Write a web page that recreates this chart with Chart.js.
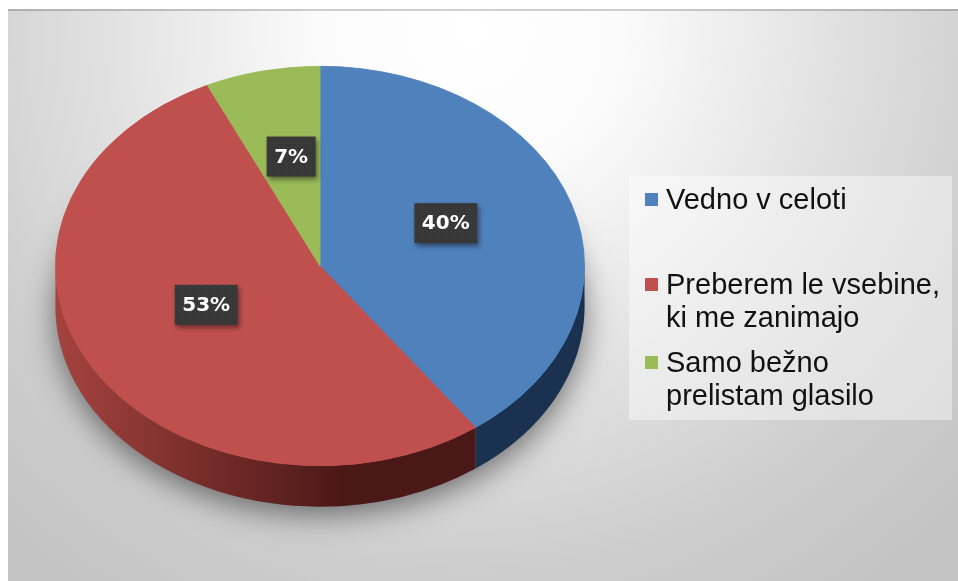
<!DOCTYPE html>
<html>
<head>
<meta charset="utf-8">
<script src="https://cdn.jsdelivr.net/npm/chart.js@4.4.0/dist/chart.umd.min.js"></script>
<style>
  body { margin: 0; background: #fff; }
</style>
</head>
<body>
<canvas id="pie" width="958" height="581"></canvas>
<script>
// data
const categories = ['Vedno v celoti', ['Preberem le vsebine,', 'ki me zanimajo'], ['Samo bežno', 'prelistam glasilo']];
const shares = [40, 53, 7];

// colours
const topColors = ['#4f81bd', '#c0504d', '#9bbb59'];
const sideColors = [['#1e3a5e', '#1a3150'], ['#a5433f', '#4a1816'], ['#6f8a3a', '#56702c']];

// 3d look
const TILT = 0.755;
const DEPTH = 41;
const FACE_Y = 266;
const LABEL_SHIFT = -12;

// legend layout
const LEGEND_BOX = [629, 176, 323, 244];
const LEGEND_BASE = [209, 294, 372];
const LINE_H = 33;

function dotPattern(ctx) {
  const c = document.createElement('canvas');
  c.width = 4; c.height = 4;
  const p = c.getContext('2d');
  p.fillStyle = '#363636';
  p.fillRect(0, 0, 4, 4);
  p.fillStyle = '#474747';
  p.fillRect(1, 1, 1, 1);
  p.fillRect(3, 3, 1, 1);
  return ctx.createPattern(c, 'repeat');
}

const pie3d = {
  id: 'pie3d',
  beforeDraw(chart) {
    const ctx = chart.ctx;
    ctx.save();
    ctx.fillStyle = '#fff';
    ctx.fillRect(0, 0, chart.width, chart.height);
    const g = ctx.createRadialGradient(470, 30, 0, 470, 30, 680);
    g.addColorStop(0, '#ffffff');
    g.addColorStop(0.22, '#fbfbfb');
    g.addColorStop(0.55, '#e0e0e0');
    g.addColorStop(0.8, '#cdcdcd');
    g.addColorStop(1, '#c4c4c4');
    ctx.fillStyle = g;
    ctx.fillRect(8, 9, chart.width - 8, chart.height - 9);
    ctx.fillStyle = 'rgba(0,0,0,0.18)';
    ctx.fillRect(8, 9, chart.width - 8, 2);
    ctx.restore();
  },
  beforeDatasetsDraw(chart) {
    const ctx = chart.ctx;
    const meta = chart.getDatasetMeta(0);
    const first = meta.data[0];
    const cx = first.x, cy = first.y, r = first.outerRadius;
    const ry = r * TILT;

    // soft shadow under the disc
    ctx.save();
    ctx.shadowColor = 'rgba(0,0,0,0.5)';
    ctx.shadowBlur = 30;
    ctx.shadowOffsetY = 8;
    ctx.fillStyle = '#777';
    ctx.beginPath();
    ctx.ellipse(cx, FACE_Y + DEPTH, r, ry, 0, 0, Math.PI * 2);
    ctx.fill();
    ctx.restore();

    // front wall of each slice
    meta.data.forEach((el, i) => {
      const s = el.startAngle, e = el.endAngle;
      for (let k = -1; k <= 1; k++) {
        const lo = Math.max(s, k * 2 * Math.PI);
        const hi = Math.min(e, k * 2 * Math.PI + Math.PI);
        if (hi <= lo) continue;
        const g = ctx.createLinearGradient(cx - r, 0, cx + r, 0);
        g.addColorStop(0, sideColors[i][0]);
        g.addColorStop(0.55, sideColors[i][1]);
        g.addColorStop(1, sideColors[i][1]);
        ctx.save();
        ctx.fillStyle = g;
        ctx.beginPath();
        ctx.ellipse(cx, FACE_Y, r, ry, 0, lo, hi);
        ctx.ellipse(cx, FACE_Y + DEPTH, r, ry, 0, hi, lo, true);
        ctx.closePath();
        ctx.fill();
        ctx.restore();
      }
    });

    // squash the top face
    ctx.save();
    ctx.translate(0, FACE_Y);
    ctx.scale(1, TILT);
    ctx.translate(0, -cy);
  },
  afterDatasetsDraw(chart) {
    chart.ctx.restore();
  },
  afterDraw(chart) {
    const ctx = chart.ctx;
    const meta = chart.getDatasetMeta(0);
    const values = chart.data.datasets[0].data;
    const total = values.reduce((a, b) => a + b, 0);
    const pat = dotPattern(ctx);

    // percentage labels
    ctx.save();
    ctx.font = 'bold 20px "DejaVu Sans"';
    ctx.textAlign = 'center';
    ctx.textBaseline = 'middle';
    meta.data.forEach((el, i) => {
      const mid = (el.startAngle + el.endAngle) / 2;
      const rr = el.outerRadius * 0.5;
      const x = el.x + Math.cos(mid) * rr;
      const y = FACE_Y + LABEL_SHIFT + Math.sin(mid) * rr * TILT;
      const txt = Math.round(values[i] / total * 100) + '%';
      const w = ctx.measureText(txt).width + 15;
      const h = 40;
      ctx.save();
      ctx.shadowColor = 'rgba(0,0,0,0.45)';
      ctx.shadowBlur = 5;
      ctx.shadowOffsetX = 2;
      ctx.shadowOffsetY = 3;
      ctx.fillStyle = pat;
      ctx.fillRect(x - w / 2, y - h / 2, w, h);
      ctx.restore();
      ctx.fillStyle = '#ffffff';
      ctx.fillText(txt, x, y + 1);
    });
    ctx.restore();

    // legend
    ctx.save();
    ctx.fillStyle = 'rgba(255,255,255,0.42)';
    ctx.fillRect(LEGEND_BOX[0], LEGEND_BOX[1], LEGEND_BOX[2], LEGEND_BOX[3]);
    ctx.font = '29px "Liberation Sans", Arial, sans-serif';
    ctx.textBaseline = 'alphabetic';
    ctx.textAlign = 'left';
    chart.data.labels.forEach((lab, i) => {
      const lines = Array.isArray(lab) ? lab : [lab];
      const base = LEGEND_BASE[i];
      ctx.fillStyle = chart.data.datasets[0].backgroundColor[i];
      ctx.fillRect(645, base - 16, 13, 13);
      ctx.fillStyle = '#111';
      lines.forEach((ln, j) => ctx.fillText(ln, 666, base + j * LINE_H));
    });
    ctx.restore();
  }
};

new Chart(document.getElementById('pie'), {
  type: 'pie',
  data: {
    labels: categories,
    datasets: [{
      data: shares,
      backgroundColor: topColors,
      borderColor: topColors,
      borderWidth: 1
    }]
  },
  options: {
    responsive: false,
    animation: false,
    layout: { padding: { left: 55, right: 373, top: 0, bottom: 0 } },
    plugins: {
      legend: { display: false },
      tooltip: { enabled: false }
    }
  },
  plugins: [pie3d]
});
</script>
</body>
</html>
